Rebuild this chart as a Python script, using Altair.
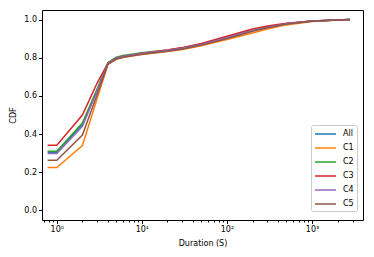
import altair as alt
import pandas as pd

durations = [0.78, 1, 2, 3, 4, 5, 6, 8, 10, 20, 30, 50, 100, 200, 300, 500, 1000, 2000, 2800]
series_names = ["All", "C1", "C2", "C3", "C4", "C5"]
cdf_all = [0.305, 0.305, 0.45, 0.63, 0.772, 0.797, 0.806, 0.815, 0.822, 0.838, 0.85, 0.87, 0.905, 0.942, 0.96, 0.978, 0.992, 0.998, 1.0]
cdf_c1 = [0.225, 0.225, 0.34, 0.59, 0.765, 0.792, 0.801, 0.81, 0.817, 0.832, 0.843, 0.862, 0.895, 0.93, 0.95, 0.972, 0.99, 0.998, 1.0]
cdf_c2 = [0.31, 0.31, 0.458, 0.64, 0.775, 0.803, 0.812, 0.82, 0.826, 0.84, 0.852, 0.872, 0.906, 0.942, 0.96, 0.978, 0.992, 0.998, 1.0]
cdf_c3 = [0.342, 0.342, 0.50, 0.67, 0.772, 0.798, 0.807, 0.816, 0.823, 0.84, 0.853, 0.875, 0.912, 0.95, 0.966, 0.98, 0.993, 0.998, 1.0]
cdf_c4 = [0.298, 0.298, 0.44, 0.63, 0.772, 0.797, 0.806, 0.815, 0.822, 0.838, 0.85, 0.869, 0.905, 0.942, 0.96, 0.978, 0.992, 0.998, 1.0]
cdf_c5 = [0.263, 0.263, 0.395, 0.61, 0.767, 0.793, 0.802, 0.811, 0.818, 0.834, 0.846, 0.866, 0.9, 0.938, 0.957, 0.976, 0.991, 0.998, 1.0]
colors = ["#1f77b4", "#ff7f0e", "#2ca02c", "#d62728", "#9467bd", "#8c564b"]
y_ticks = [0.0, 0.2, 0.4, 0.6, 0.8, 1.0]
x_major = [1, 10, 100, 1000]
x_minor = [m * 10 ** e for e in range(-1, 4) for m in range(2, 10) if 0.67 <= m * 10 ** e <= 3980]

rows = []
for name, vals in zip(series_names, [cdf_all, cdf_c1, cdf_c2, cdf_c3, cdf_c4, cdf_c5]):
    for i, (d, v) in enumerate(zip(durations, vals)):
        rows.append({"series": name, "duration": d, "cdf": v, "idx": i, "s": series_names.index(name)})
df = pd.DataFrame(rows)

font = "DejaVu Sans"
xscale = alt.Scale(type="log", domain=[0.67, 3980], nice=False)
yscale = alt.Scale(domain=[-0.05, 1.05], nice=False, zero=False)

lines = alt.Chart(df).mark_line(strokeWidth=1.5, clip=True).encode(
    x=alt.X("duration:Q", scale=xscale, title="Duration (S)",
            axis=alt.Axis(values=x_major, orient="bottom", domain=False, grid=False, tickSize=3.5, tickColor="black",
                          labelExpr="datum.value == 1 ? '10⁰' : datum.value == 10 ? '10¹' : datum.value == 100 ? '10²' : '10³'",
                          labelFont=font, labelFontSize=8, labelColor="black", labelPadding=2,
                          titleFont=font, titleFontSize=8, titleFontWeight="normal", titleColor="black", titlePadding=6)),
    y=alt.Y("cdf:Q", scale=yscale, title="CDF",
            axis=alt.Axis(values=y_ticks, format=".1f", domain=False, grid=False, tickSize=3.5, tickColor="black",
                          labelFont=font, labelFontSize=8, labelColor="black", labelPadding=2,
                          titleFont=font, titleFontSize=8, titleFontWeight="normal", titleColor="black", titlePadding=6)),
    color=alt.Color("series:N", scale=alt.Scale(domain=series_names, range=colors),
                    sort=series_names,
                    legend=alt.Legend(title=None, orient="none", legendX=269, legendY=115,
                                      symbolType="M-1,0H3.2", symbolSize=100, symbolStrokeWidth=1.5,
                                      labelFont=font, labelFontSize=8, labelColor="black", labelOffset=17,
                                      padding=3, strokeColor="#cccccc", fillColor="white", cornerRadius=2,
                                      rowPadding=4)),
    detail="s:O",
    order="idx:Q",
)

minor_df = pd.DataFrame({"duration": x_minor})
minor = alt.Chart(minor_df).mark_point(opacity=0).encode(
    x=alt.X("duration:Q", scale=xscale,
            axis=alt.Axis(values=x_minor, orient="bottom", labels=False, domain=False, grid=False,
                          tickSize=2, tickColor="black", title=None)),
    y=alt.value(100),
)

chart = alt.layer(lines, minor).resolve_axis(x="independent").properties(
    width=321, height=210,
    autosize=alt.AutoSizeParams(type="none"),
    padding={"left": 34, "top": 2, "right": 3, "bottom": 29},
).configure_view(stroke="black", strokeWidth=1)

chart.save("out.html", embed_options={"renderer": "svg", "actions": False})
